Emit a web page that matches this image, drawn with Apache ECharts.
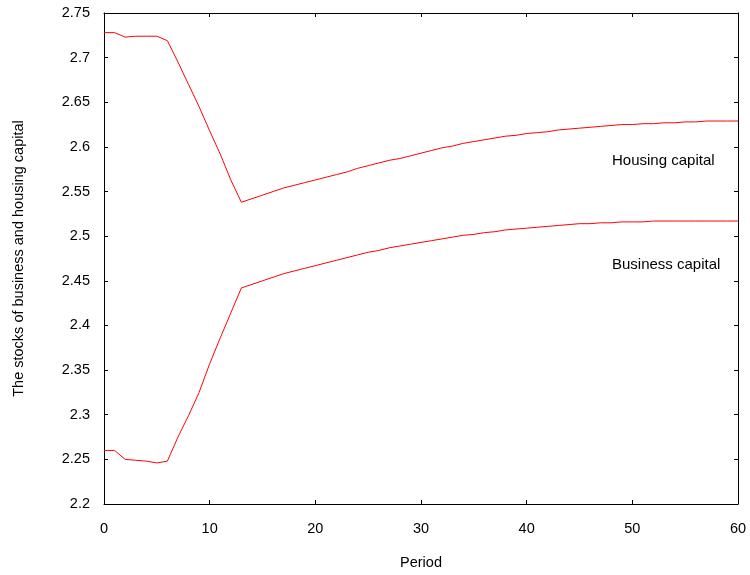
<!DOCTYPE html>
<html>
<head>
<meta charset="utf-8">
<script src="https://cdn.jsdelivr.net/npm/echarts@6/dist/echarts.min.js"></script>
<style>
  html, body { margin: 0; padding: 0; background: #fff; }
  #main { width: 750px; height: 575px; }
</style>
</head>
<body>
<div id="main"></div>
<script>
// periods 0..60
var periods = [];
for (var i = 0; i <= 60; i++) periods.push(i);

// housing capital stock
var housing = [
  2.728, 2.728, 2.723, 2.724, 2.724, 2.724, 2.719, 2.695, 2.670, 2.645,
  2.618, 2.592, 2.563, 2.538, 2.542, 2.546, 2.550, 2.554, 2.557, 2.560,
  2.563, 2.566, 2.569, 2.572, 2.576, 2.579, 2.582, 2.585, 2.587, 2.590,
  2.593, 2.596, 2.599, 2.601, 2.604, 2.606, 2.608, 2.610, 2.612, 2.613,
  2.615, 2.616, 2.617, 2.619, 2.620, 2.621, 2.622, 2.623, 2.624, 2.625,
  2.625, 2.626, 2.626, 2.627, 2.627, 2.628, 2.628, 2.629, 2.629, 2.629,
  2.629
];

// business capital stock
var business = [
  2.260, 2.260, 2.250, 2.249, 2.248, 2.246, 2.248, 2.275, 2.299, 2.325,
  2.357, 2.386, 2.414, 2.442, 2.446, 2.450, 2.454, 2.458, 2.461, 2.464,
  2.467, 2.470, 2.473, 2.476, 2.479, 2.482, 2.484, 2.487, 2.489, 2.491,
  2.493, 2.495, 2.497, 2.499, 2.501, 2.502, 2.504, 2.505, 2.507, 2.508,
  2.509, 2.510, 2.511, 2.512, 2.513, 2.514, 2.514, 2.515, 2.515, 2.516,
  2.516, 2.516, 2.517, 2.517, 2.517, 2.517, 2.517, 2.517, 2.517, 2.517,
  2.517
];

var seriesNames = ['Housing capital', 'Business capital'];

function pairs(vals) {
  return periods.map(function (p, k) { return [p, vals[k]]; });
}

var font = 'Liberation Sans, Arial, sans-serif';
var axisLine = { show: true, onZero: false, lineStyle: { color: '#000', width: 1 } };
var tick = { show: true, inside: true, length: 4, lineStyle: { color: '#000' } };

var chart = echarts.init(document.getElementById('main'));
chart.setOption({
  animation: false,
  grid: { left: 104, right: 12, top: 13, bottom: 71, outerBoundsMode: 'none', containLabel: false },
  xAxis: [{
    type: 'value', min: 0, max: 60, interval: 10,
    name: 'Period', nameLocation: 'middle', nameGap: 51,
    nameTextStyle: { color: '#000', fontSize: 14.5, fontFamily: font },
    axisLine: axisLine, axisTick: tick,
    axisLabel: { color: '#000', fontSize: 14.5, fontFamily: font, margin: 17 },
    splitLine: { show: false }
  }, {
    type: 'value', min: 0, max: 60, interval: 10, position: 'top',
    axisLine: axisLine, axisTick: tick, axisLabel: { show: false },
    splitLine: { show: false }
  }],
  yAxis: [{
    type: 'value', min: 2.2, max: 2.75, interval: 0.05,
    name: 'The stocks of business and housing capital',
    nameLocation: 'middle', nameGap: 78, nameRotate: 90,
    nameTextStyle: { color: '#000', fontSize: 14.5, fontFamily: font },
    axisLine: axisLine, axisTick: tick,
    axisLabel: {
      color: '#000', fontSize: 14.5, fontFamily: font, margin: 14,
      formatter: function (v) { return String(+v.toFixed(2)); }
    },
    splitLine: { show: false }
  }, {
    type: 'value', min: 2.2, max: 2.75, interval: 0.05, position: 'right',
    axisLine: axisLine, axisTick: tick, axisLabel: { show: false },
    splitLine: { show: false }
  }],
  series: [{
    name: seriesNames[0], type: 'line', data: pairs(housing),
    showSymbol: false, lineStyle: { color: '#ff0000', width: 1 }
  }, {
    name: seriesNames[1], type: 'line', data: pairs(business),
    showSymbol: false, lineStyle: { color: '#ff0000', width: 1 }
  }],
  graphic: [{
    type: 'text', left: 612, top: 153,
    style: { text: seriesNames[0], fill: '#000', font: '15px ' + font }
  }, {
    type: 'text', left: 612, top: 257,
    style: { text: seriesNames[1], fill: '#000', font: '15px ' + font }
  }]
});
</script>
</body>
</html>
